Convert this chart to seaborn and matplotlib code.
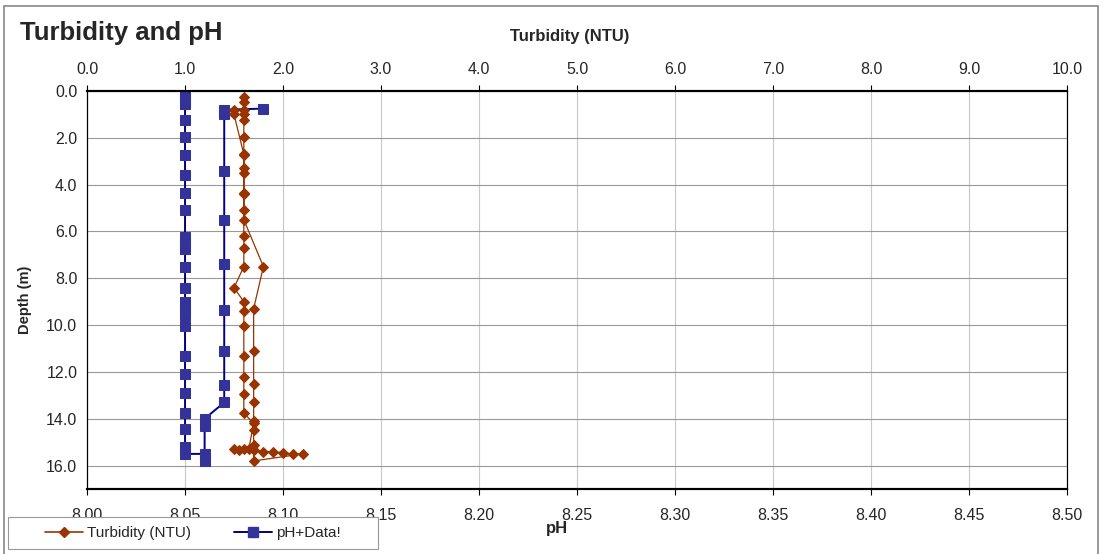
import seaborn as sns
import matplotlib.pyplot as plt
import matplotlib.ticker as mticker
from matplotlib.patches import Rectangle
from matplotlib.lines import Line2D
import pandas as pd

# Turbidity profile (down then up cast), in recorded order
turb_depth = [0.8, 1.0, 2.7, 4.4, 5.5, 7.5, 9.3, 11.1, 12.5, 13.3, 14.1, 14.5, 15.1,
              15.8, 15.5, 15.5, 15.45, 15.4, 15.4, 15.35, 15.3, 15.3, 15.35, 15.3,
              14.2, 13.75, 12.95, 12.2, 11.3, 10.05, 9.4, 9.0, 8.4, 7.5, 6.7, 6.2,
              5.1, 4.35, 3.5, 3.3, 2.75, 1.95, 1.25, 1.0, 0.8, 0.45, 0.25]
turb_ntu = [1.5, 1.5, 1.6, 1.6, 1.6, 1.8, 1.7, 1.7, 1.7, 1.7, 1.7, 1.7, 1.7,
            1.7, 2.2, 2.1, 2.0, 1.9, 1.8, 1.7, 1.6, 1.5, 1.55, 1.65,
            1.7, 1.6, 1.6, 1.6, 1.6, 1.6, 1.6, 1.6, 1.5, 1.6, 1.6, 1.6,
            1.6, 1.6, 1.6, 1.6, 1.6, 1.6, 1.6, 1.6, 1.6, 1.6, 1.6]

# pH profile, in recorded order
ph_depth = [0.75, 0.8, 1.0, 3.4, 5.5, 7.4, 9.35, 11.1, 12.55, 13.3, 14.0, 14.3,
            15.8, 15.5, 15.5, 15.35, 15.2, 14.45, 13.75, 12.9, 12.1, 11.3, 10.05,
            9.55, 9.3, 9.0, 8.4, 7.5, 6.75, 6.5, 6.25, 5.1, 4.35, 3.6, 2.75, 1.95,
            1.25, 0.55, 0.4, 0.2]
ph_val = [8.09, 8.07, 8.07, 8.07, 8.07, 8.07, 8.07, 8.07, 8.07, 8.07, 8.06, 8.06,
          8.06, 8.06, 8.05, 8.05, 8.05, 8.05, 8.05, 8.05, 8.05, 8.05, 8.05,
          8.05, 8.05, 8.05, 8.05, 8.05, 8.05, 8.05, 8.05, 8.05, 8.05, 8.05, 8.05, 8.05,
          8.05, 8.05, 8.05, 8.05]

turb = pd.DataFrame({'depth': turb_depth, 'ntu': turb_ntu})
ph = pd.DataFrame({'depth': ph_depth, 'ph': ph_val})

sns.set_style("white")
plt.rcParams['font.family'] = ['Liberation Sans', 'DejaVu Sans']

brown = '#993300'
navy = '#000080'
slate = '#333399'

fig = plt.figure(figsize=(11.1, 5.54), dpi=100)
ax = fig.add_axes([0.0784, 0.1173, 0.8829, 0.7184])
ax_t = ax.twiny()

# grid lives on the bottom axes so it stays under both series
ax.set_axisbelow(True)
ax.yaxis.grid(True, color='#999999', linewidth=0.8)
ax.xaxis.grid(True, color='#c8c8c8', linewidth=0.8)

# pH on the bottom axis
sns.lineplot(data=ph, x='ph', y='depth', sort=False, estimator=None, ax=ax,
             color=navy, linewidth=1.4, marker='s', markersize=7,
             markerfacecolor=slate, markeredgecolor=slate)
# turbidity on the top axis
sns.lineplot(data=turb, x='ntu', y='depth', sort=False, estimator=None, ax=ax_t,
             color=brown, linewidth=0.9, marker='D', markersize=5.5,
             markerfacecolor=brown, markeredgecolor=brown)

ax.set_xlim(8.0, 8.5)
ax.set_ylim(17, 0)
ax_t.set_xlim(0, 10)
ax.xaxis.set_major_locator(mticker.MultipleLocator(0.05))
ax.xaxis.set_major_formatter(mticker.FormatStrFormatter('%.2f'))
ax_t.xaxis.set_major_locator(mticker.MultipleLocator(1))
ax_t.xaxis.set_major_formatter(mticker.FormatStrFormatter('%.1f'))
ax.yaxis.set_major_locator(mticker.MultipleLocator(2))
ax.yaxis.set_major_formatter(mticker.FormatStrFormatter('%.1f'))
ax_t.grid(False)

for a in (ax, ax_t):
    a.tick_params(axis='both', labelsize=11.5, direction='out', length=4, width=0.8,
                  color='black', pad=3)
    for s in a.spines.values():
        s.set_color('black')
        s.set_linewidth(0.8)
ax.tick_params(axis='x', pad=10)
ax_t.tick_params(axis='x', pad=6)
for a in (ax, ax_t):
    a.spines['top'].set_linewidth(1.5)
    a.spines['bottom'].set_linewidth(1.5)

ax.set_xlabel('pH', fontsize=12, fontweight='bold', va='center')
ax.xaxis.set_label_coords(0.48, -0.098)
ax.set_ylabel('Depth (m)', fontsize=10.5, fontweight='bold', va='center')
ax.yaxis.set_label_coords(-0.063, 0.475)
ax_t.set_xlabel('Turbidity (NTU)', fontsize=12, fontweight='bold', va='center')
ax_t.xaxis.set_label_coords(0.492, 1.136)

fig.text(0.018, 0.94, 'Turbidity and pH', fontsize=18.5, fontweight='bold',
         ha='left', va='center')

# chart border
fig.patches.append(Rectangle((0.004, -0.01), 0.985, 1.0, transform=fig.transFigure,
                             fill=False, edgecolor='#888888', linewidth=1.2))

# legend box drawn by hand, entries centered inside it
box = (0.0072, 0.009, 0.333, 0.058)
fig.patches.append(Rectangle(box[:2], box[2], box[3], transform=fig.transFigure,
                             facecolor='white', edgecolor='#999999', linewidth=0.8,
                             zorder=5))
handles = [Line2D([], [], color=brown, linewidth=1.2, marker='D', markersize=5.5),
           Line2D([], [], color=navy, linewidth=1.4, marker='s', markersize=7,
                  markerfacecolor=slate, markeredgecolor=slate)]
leg = fig.legend(handles, ['Turbidity (NTU)', 'pH+Data!'], ncol=2,
                 loc='center', bbox_to_anchor=box, frameon=False,
                 fontsize=11, handlelength=2.5, handletextpad=0.25,
                 columnspacing=2.8, borderaxespad=0)
leg.set_zorder(6)

fig.savefig('out.png', dpi=100)
